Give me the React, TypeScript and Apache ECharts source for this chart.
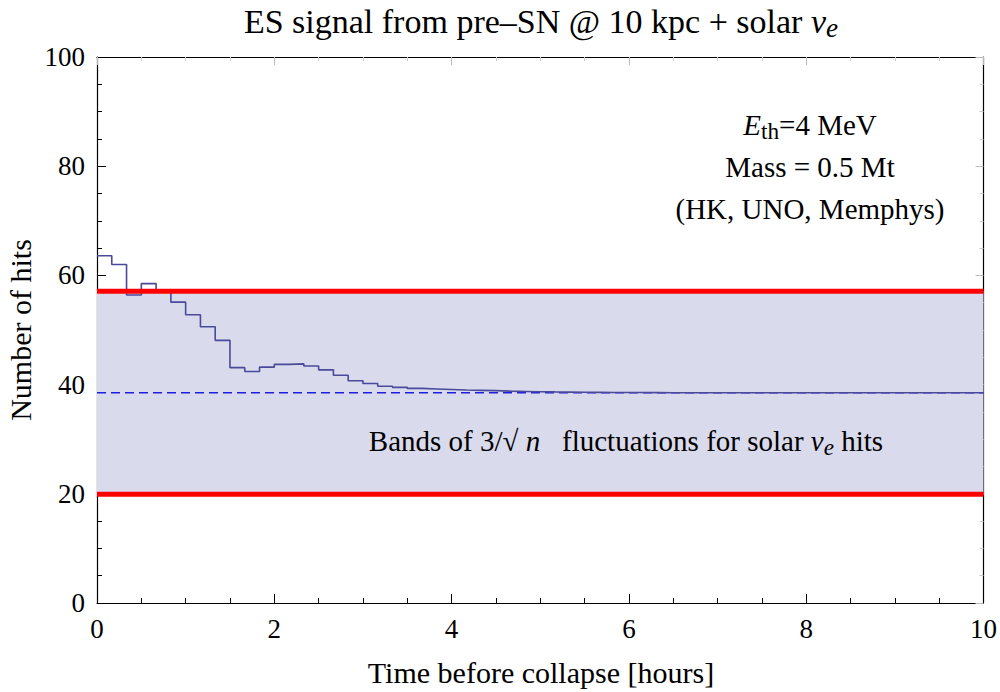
import React, { useEffect, useRef } from "react";
import * as echarts from "echarts";

// Data
const BIN_HOURS = 1 / 6; // 10-minute bins
const HITS = [
  63.6, 62.0, 56.4, 58.5, 57.0, 55.1, 52.8, 50.6, 48.1, 43.1,
  42.4, 43.2, 43.7, 43.8, 43.4, 42.7, 41.7, 40.7, 40.2, 39.7,
  39.5, 39.3, 39.2, 39.1, 39.0, 38.95, 38.9, 38.8, 38.75, 38.7,
  38.66, 38.63, 38.6, 38.58, 38.56, 38.55, 38.54, 38.53, 38.52, 38.51,
  38.5, 38.5, 38.5, 38.5, 38.5, 38.5, 38.5, 38.5, 38.5, 38.5,
  38.5, 38.5, 38.5, 38.5, 38.5, 38.5, 38.5, 38.5, 38.5, 38.5,
];
const SOLAR_MEAN = 38.5;
const BAND_LOW = 19.9;
const BAND_HIGH = 57.1;
const X_RANGE = [0, 10];
const Y_RANGE = [0, 100];

const FONT = "Liberation Serif";

export default function App() {
  const ref = useRef<HTMLDivElement>(null);
  useEffect(() => {
    if (!ref.current) return;
    const chart = echarts.init(ref.current, null, { renderer: "svg" });
    const hist: number[][] = HITS.map((v, i) => [i * BIN_HOURS, v]);
    hist.push([X_RANGE[1], HITS[HITS.length - 1]]);

    const axisCommon = {
      axisLine: { show: true, onZero: false, lineStyle: { color: "#000", width: 1.2 } },
      splitLine: { show: false },
    };

    const txt = (x: number, y: number, text: string, size: number, extra: any = {}) => ({
      type: "text",
      x,
      y,
      z: 100,
      zlevel: 1,
      ...extra,
      style: {
        text,
        fontFamily: FONT,
        fontSize: size,
        fill: "#000",
        align: "center",
        verticalAlign: "middle",
        rich: {
          i: { fontFamily: FONT, fontSize: size, fontStyle: "italic" },
          isub: { fontFamily: FONT, fontSize: size * 0.8, fontStyle: "italic", padding: [size * 0.4, 0, 0, 0] },
          sub: { fontFamily: FONT, fontSize: size * 0.8, padding: [size * 0.4, 0, 0, 0] },
        },
      },
    });

    chart.setOption({
      animation: false,
      backgroundColor: "#fff",
      grid: { left: 97, top: 57, right: 15, bottom: 89, containLabel: false },
      xAxis: [
        {
          type: "value",
          min: X_RANGE[0],
          max: X_RANGE[1],
          interval: 2,
          position: "bottom",
          ...axisCommon,
          axisTick: { show: true, inside: true, length: 9, lineStyle: { color: "#000", width: 1 } },
          minorTick: { show: true, splitNumber: 4, length: 5, lineStyle: { color: "#000", width: 1 } },
          axisLabel: { fontFamily: FONT, fontSize: 27, color: "#000", margin: 12 },
        },
        {
          type: "value",
          min: X_RANGE[0],
          max: X_RANGE[1],
          interval: 2,
          position: "top",
          ...axisCommon,
          axisTick: { show: true, inside: true, length: 8, lineStyle: { color: "#bbb", width: 1 } },
          minorTick: { show: true, splitNumber: 4, length: 4, lineStyle: { color: "#ccc", width: 1 } },
          axisLabel: { show: false },
        },
      ],
      yAxis: [
        {
          type: "value",
          min: Y_RANGE[0],
          max: Y_RANGE[1],
          interval: 20,
          position: "left",
          ...axisCommon,
          axisTick: { show: true, inside: true, length: 9, lineStyle: { color: "#000", width: 1 } },
          minorTick: { show: true, splitNumber: 4, length: 5, lineStyle: { color: "#000", width: 1 } },
          axisLabel: { fontFamily: FONT, fontSize: 27, color: "#000", margin: 12 },
        },
        {
          type: "value",
          min: Y_RANGE[0],
          max: Y_RANGE[1],
          interval: 20,
          position: "right",
          ...axisCommon,
          axisTick: { show: true, inside: true, length: 8, lineStyle: { color: "#bbb", width: 1 } },
          minorTick: { show: true, splitNumber: 4, length: 4, lineStyle: { color: "#ccc", width: 1 } },
          axisLabel: { show: false },
        },
      ],
      series: [
        {
          type: "line",
          data: [],
          z: 1,
          markArea: {
            silent: true,
            itemStyle: { color: "#dadaed" },
            data: [[{ yAxis: BAND_LOW }, { yAxis: BAND_HIGH }]],
          },
        },
        {
          type: "line",
          z: 2,
          symbol: "none",
          data: [
            [X_RANGE[0], SOLAR_MEAN],
            [X_RANGE[1], SOLAR_MEAN],
          ],
          lineStyle: { color: "#1e1ee6", width: 1.5, type: [9, 5] },
        },
        {
          type: "line",
          z: 3,
          symbol: "none",
          step: "end",
          data: hist,
          lineStyle: { color: "#4a4a9a", width: 1.6 },
        },
        {
          type: "line",
          z: 4,
          symbol: "none",
          data: [
            [X_RANGE[0], BAND_HIGH],
            [X_RANGE[1], BAND_HIGH],
          ],
          lineStyle: { color: "#ff0000", width: 5 },
        },
        {
          type: "line",
          z: 4,
          symbol: "none",
          data: [
            [X_RANGE[0], BAND_LOW],
            [X_RANGE[1], BAND_LOW],
          ],
          lineStyle: { color: "#ff0000", width: 5 },
        },
      ],
      graphic: [
        txt(541, 21, "ES signal from pre–SN @ 10 kpc + solar {i|ν}{isub|e}", 34),
        txt(810, 125, "{i|E}{sub|th}=4 MeV", 29),
        txt(810, 167, "Mass = 0.5 Mt", 29),
        txt(810, 209, "(HK, UNO, Memphys)", 29),
        txt(626, 441, "Bands of 3/√{i| n }  fluctuations for solar {i|ν}{isub|e} hits", 29),
        txt(541, 672, "Time before collapse [hours]", 30),
        txt(20, 330, "Number of hits", 30, { rotation: Math.PI / 2 }),
      ],
    });
    return () => chart.dispose();
  }, []);
  return (
    <div
      ref={ref}
      style={{ position: "absolute", left: 0, top: 0, width: 1000, height: 692 }}
    />
  );
}
